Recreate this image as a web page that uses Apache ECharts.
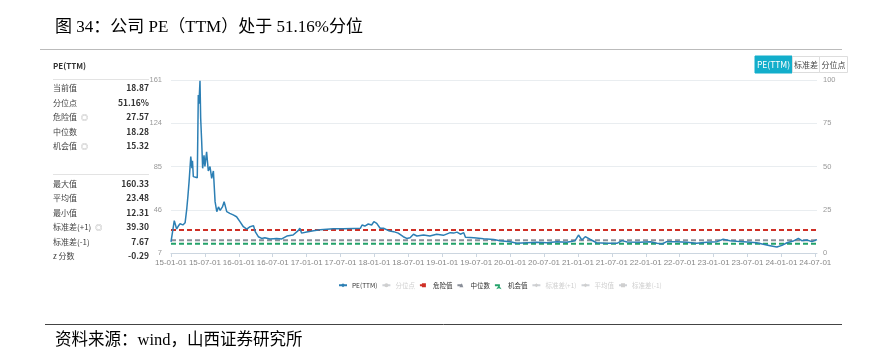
<!DOCTYPE html>
<html>
<head>
<meta charset="utf-8">
<script src="https://cdn.jsdelivr.net/npm/echarts@6/dist/echarts.min.js"></script>
<style>
html, body { margin: 0; padding: 0; background: #fff; }
#main { width: 882px; height: 352px; }
</style>
</head>
<body>
<div id="main"></div>
<script>
// months since 2015-01-01
const peMonth = [
	0, 0.58, 1.0, 1.3, 1.6, 2.1, 2.5, 2.8, 3.0, 3.2, 3.5, 3.7, 3.8, 3.95, 4.65, 4.83, 4.95, 5.13,
	5.25, 5.43, 5.6, 5.84, 6.0, 6.3, 6.6, 6.9, 7.2, 7.5, 7.8, 8.1, 8.4, 8.7, 9.1, 9.4, 9.86,
	10.4, 11.0, 11.6, 12.2, 12.8, 13.4, 14.0, 14.6, 14.9, 15.45, 16.05, 16.6, 17.5, 18.7, 19.6,
	20.5, 21.6, 22.5, 22.8, 23.1, 24.0, 25.2, 26.4, 27.6, 28.7, 30.5, 32.3, 33.5, 33.8, 34.3,
	34.9, 35.5, 35.9, 36.4, 37.0, 37.6, 38.5, 39.4, 40.2, 41.1, 41.7, 42.3, 42.9, 43.5, 44.7,
	45.8, 47.0, 48.2, 49.4, 50.0, 50.6, 51.2, 51.8, 52.1, 53.6, 55.3, 57.1, 58.2, 60.0, 61.2,
	63.0, 64.7, 66.5, 68.3, 70.0, 71.5, 72.1, 72.7, 73.3, 74.2, 75.3, 77.1, 78.9, 79.8, 80.7,
	83.0, 84.8, 86.0, 86.9, 87.7, 89.5, 91.3, 93.0, 94.8, 96.6, 97.7, 98.9, 100.1, 101.9, 103.6,
	104.8, 106.0, 107.2, 108.1, 109.0, 110.1, 111.0, 111.6, 112.5, 113.4, 114.3
];
const peValue = [
	17, 35.8, 28.4, 31, 33, 32, 34, 46.8, 58, 70.5, 92.8, 82.4, 89, 75, 74, 147.7, 140, 160.33,
	127, 106, 82.4, 94, 84, 97, 80, 84, 73.5, 80, 52.7, 43.8, 48, 45, 48, 52.7, 43.8,
	42.3, 40.9, 39.3, 34.9, 30.4, 28.3, 30.4, 31.4, 26, 21.5, 20, 20.6, 19.5, 19.9, 19.5,
	22.1, 23, 26.9, 29, 24.7, 25.6, 26.8, 27.7, 28.2, 28.5, 28.5, 28.8, 29, 31.9, 31,
	32.8, 31.9, 34.9, 33.4, 29, 29, 26.9, 26, 24.7, 21.5, 20, 20.6, 23.7, 22.1, 23,
	22.1, 23.7, 22.7, 25.1, 24.7, 25.6, 23.7, 25.1, 21, 20.6, 19.7, 19, 18, 17.1, 15.6,
	16.1, 16.5, 16.1, 17.1, 16.5, 18, 23, 18.6, 21.5, 19, 16.1, 15.6, 15.6, 18, 16.8,
	16.5, 17.1, 15.6, 15, 17.1, 17.1, 16.5, 15.6, 16.5, 17.1, 19.2, 18, 17.5, 16.8, 16.1,
	14.7, 13.5, 12.31, 13.8, 16.1, 17.6, 20, 18, 18.6, 17.1, 18.87
];
const xTickLabels = [
	'15-01-01', '15-07-01', '16-01-01', '16-07-01', '17-01-01', '17-07-01', '18-01-01',
	'18-07-01', '19-01-01', '19-07-01', '20-01-01', '20-07-01', '21-01-01', '21-07-01',
	'22-01-01', '22-07-01', '23-01-01', '23-07-01', '24-01-01', '24-07-01'
];
const leftTicks = [7, 46, 85, 124, 161];
const rightTicks = [0, 25, 50, 75, 100];

const dangerValue = 27.57;
const medianValue = 18.28;
const chanceValue = 15.32;
const sdPlusValue = 39.30;
const meanValue = 23.48;
const sdMinusValue = 7.67;

const statLabels1 = ['当前值', '分位点', '危险值', '中位数', '机会值'];
const statValues1 = ['18.87', '51.16%', '27.57', '18.28', '15.32'];
const statInfo1 = [false, false, true, false, true];
const statLabels2 = ['最大值', '平均值', '最小值', '标准差(+1)', '标准差(-1)', 'z 分数'];
const statValues2 = ['160.33', '23.48', '12.31', '39.30', '7.67', '-0.29'];
const statInfo2 = [false, false, false, true, false, false];

const xMax = 114.3;

let myChart = echarts.init(document.getElementById('main'));

const pePoints = peMonth.map((m, i) => [m, peValue[i]]);
const flat = v => [[0, v], [xMax, v]];

const cjk = "'Noto Sans CJK SC', sans-serif";
const narrow = "'Liberation Sans Narrow', 'Noto Sans CJK SC', sans-serif";
const measure = document.createElement('canvas').getContext('2d');

let graphics = [
	{ type: 'text', left: 55, top: 19, style: { text: '图 34：公司 PE（TTM）处于 51.16%分位', font: "17px 'Liberation Serif', 'Noto Sans CJK SC'", fill: '#000' } },
	{ type: 'line', shape: { x1: 40, y1: 49.5, x2: 842, y2: 49.5 }, style: { stroke: '#bbb', lineWidth: 1 } },
	{ type: 'line', shape: { x1: 45, y1: 324.5, x2: 842, y2: 324.5 }, style: { stroke: '#444', lineWidth: 1 } },
	{ type: 'text', left: 55, top: 332, style: { text: '资料来源：wind，山西证券研究所', font: "16.5px 'Liberation Serif', 'Noto Sans CJK SC'", fill: '#000' } },
	{ type: 'text', left: 53, top: 62, style: { text: 'PE(TTM)', font: "bold 8px " + narrow, fill: '#333' } },
	{ type: 'line', shape: { x1: 53, y1: 79.5, x2: 149, y2: 79.5 }, style: { stroke: '#e3e3e3', lineWidth: 1 } },
	{ type: 'line', shape: { x1: 53, y1: 174.5, x2: 149, y2: 174.5 }, style: { stroke: '#e3e3e3', lineWidth: 1 } },
	// buttons
	{ type: 'rect', shape: { x: 755, y: 56, width: 37, height: 17 }, style: { fill: '#13aecb', stroke: '#13aecb' } },
	{ type: 'rect', shape: { x: 792.5, y: 56.5, width: 27, height: 16 }, style: { fill: '#fff', stroke: '#ddd' } },
	{ type: 'rect', shape: { x: 819.5, y: 56.5, width: 28, height: 16 }, style: { fill: '#fff', stroke: '#ddd' } },
	{ type: 'text', x: 773.5, y: 64.5, style: { text: 'PE(TTM)', font: '8.5px ' + narrow, fill: '#fff', align: 'center', verticalAlign: 'middle' } },
	{ type: 'text', x: 806, y: 64.5, style: { text: '标准差', font: '8px ' + cjk, fill: '#444', align: 'center', verticalAlign: 'middle' } },
	{ type: 'text', x: 833.5, y: 64.5, style: { text: '分位点', font: '8px ' + cjk, fill: '#444', align: 'center', verticalAlign: 'middle' } }
];

function addStats(labels, values, info, y0) {
	labels.forEach((t, i) => {
		const y = y0 + i * 14.5;
		const font = '8px ' + cjk;
		graphics.push({ type: 'text', x: 53, y: y, style: { text: t, font: font, fill: '#444', verticalAlign: 'middle' } });
		if (info[i]) {
			measure.font = font;
			graphics.push({ type: 'text', x: 53 + measure.measureText(t).width + 4, y: y, style: { text: '◎', font: '7px ' + cjk, fill: '#999', verticalAlign: 'middle' } });
		}
		graphics.push({ type: 'text', x: 149, y: y, style: { text: values[i], font: 'bold 8.5px ' + narrow, fill: '#333', align: 'right', verticalAlign: 'middle' } });
	});
}
addStats(statLabels1, statValues1, statInfo1, 88);
addStats(statLabels2, statValues2, statInfo2, 183.5);

function refSeries(name, value, color, symbol) {
	return {
		name: name,
		type: 'line',
		yAxisIndex: 1,
		symbol: symbol,
		showSymbol: false,
		silent: true,
		data: flat(value),
		itemStyle: { color: color },
		lineStyle: { color: color, width: 2, type: [5, 3] },
		z: 2
	};
}

let option = {
	backgroundColor: '#fff',
	animation: false,
	graphic: graphics,
	grid: { left: 171, right: 65, top: 80, bottom: 99 },
	legend: {
		left: 333,
		top: 277,
		itemWidth: 8,
		itemHeight: 5,
		itemGap: 4,
		inactiveColor: '#cfcfcf',
		textStyle: { fontSize: 6.5, color: '#333', fontFamily: narrow },
		data: ['PE(TTM)', '分位点', '危险值', '中位数', '机会值', '标准差(+1)', '平均值', '标准差(-1)'],
		selected: { '分位点': false, '标准差(+1)': false, '平均值': false, '标准差(-1)': false }
	},
	xAxis: {
		type: 'value',
		min: 0,
		max: xMax,
		interval: 6,
		axisLine: { lineStyle: { color: '#ccd6e0' } },
		axisTick: { lineStyle: { color: '#ccd6e0' }, length: 4 },
		splitLine: { show: false },
		axisLabel: {
			color: '#888',
			fontSize: 8,
			fontFamily: "'Liberation Sans Narrow', sans-serif",
			margin: 6,
			showMaxLabel: false,
			formatter: function(v) {
				return Number.isInteger(v / 6) ? (xTickLabels[v / 6] || '') : '';
			}
		}
	},
	yAxis: [{
		type: 'value',
		position: 'right',
		min: 0,
		max: 100,
		interval: 25,
		axisLine: { show: false },
		axisTick: { show: false },
		splitLine: { lineStyle: { color: '#e9edf0' } },
		axisLabel: {
			color: '#999',
			fontSize: 7.5,
			margin: 6,
			fontFamily: "'Liberation Sans Narrow', sans-serif",
			formatter: (v, i) => rightTicks[i]
		}
	}, {
		type: 'value',
		position: 'left',
		min: 7,
		max: 161,
		alignTicks: true,
		axisLine: { show: false },
		axisTick: { show: false },
		splitLine: { show: false },
		axisLabel: {
			color: '#999',
			fontSize: 7.5,
			margin: 9,
			fontFamily: "'Liberation Sans Narrow', sans-serif",
			formatter: (v, i) => leftTicks[i]
		}
	}],
	series: [{
		name: 'PE(TTM)',
		type: 'line',
		yAxisIndex: 1,
		symbol: 'diamond',
		showSymbol: false,
		data: pePoints,
		itemStyle: { color: '#2c7fb4' },
		lineStyle: { color: '#2c7fb4', width: 1.5 },
		z: 5
	}, {
		name: '分位点',
		type: 'line',
		yAxisIndex: 0,
		symbol: 'circle',
		showSymbol: false,
		data: [],
		itemStyle: { color: '#999' }
	},
		refSeries('危险值', dangerValue, '#cf2f26', 'rect'),
		refSeries('中位数', medianValue, '#8a8f99', 'triangle'),
		refSeries('机会值', chanceValue, '#23a26a', 'arrow'),
		refSeries('标准差(+1)', sdPlusValue, '#999', 'diamond'),
		refSeries('平均值', meanValue, '#999', 'diamond'),
		refSeries('标准差(-1)', sdMinusValue, '#999', 'rect')
	]
};

myChart.setOption(option);
</script>
</body>
</html>
